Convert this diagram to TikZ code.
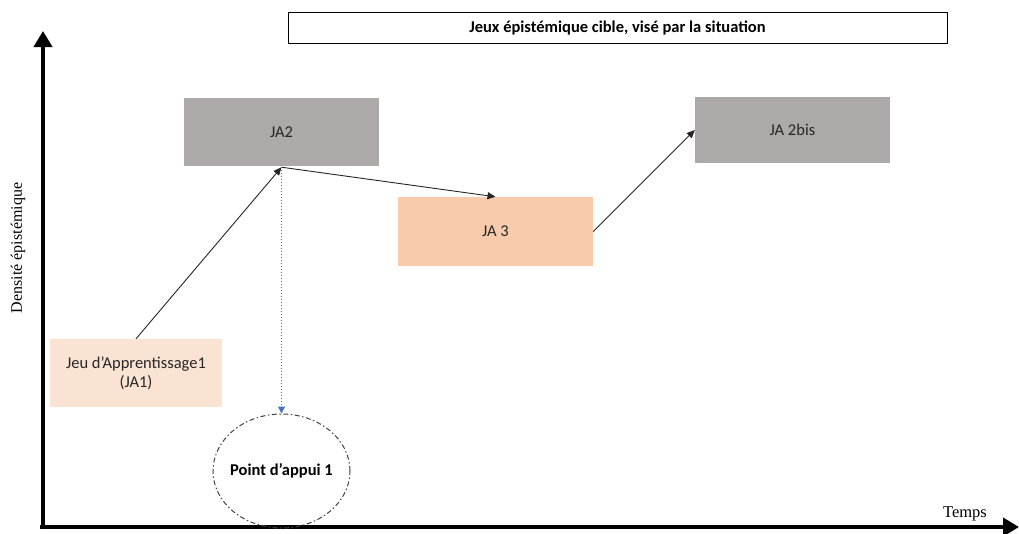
\documentclass[tikz,border=0pt]{standalone}
\usepackage{fontspec}
\setmainfont{Liberation Serif}
\newfontfamily\calfont{Carlito}
\usetikzlibrary{arrows.meta,shapes.geometric}
\definecolor{boxgray}{HTML}{ADA9A8}
\definecolor{peach}{HTML}{F8CBAD}
\definecolor{lightpeach}{HTML}{FBE3D3}
\definecolor{dotblue}{HTML}{4472C4}
\tikzset{
  jbox/.style={rectangle, inner sep=0pt, font=\calfont\fontsize{16.5}{19}\selectfont, text=black!85, align=center},
  conn/.style={-{Triangle[length=8pt,width=7pt]}, line width=0.9pt, black!85},
  axis/.style={line width=4.5pt, -{Triangle[length=16pt,width=18pt]}}
}
\begin{document}
\begin{tikzpicture}[x=1pt,y=-1pt]
\useasboundingbox (0,0) rectangle (1019,533);
% axes
\coordinate (O) at (43,527);
\coordinate (ytop) at (43,31);
\coordinate (xend) at (1019,527);
\draw[axis] (43,529) -- (ytop);
\draw[axis] (40,527) -- (xend);
\node[rotate=90, font=\fontsize{16}{18}\selectfont] (ylab) at (18,248) {Densité épistémique};
\node[font=\fontsize{16.5}{18}\selectfont] (xlab) at (965,514) {Temps};
% top box
\node[draw, line width=0.8pt, minimum width=659pt, minimum height=31pt, inner sep=0pt, font=\calfont\bfseries\fontsize{16.5}{19}\selectfont] (cible) at (617.5,27.5) {Jeux épistémique cible, visé par la situation};
% boxes
\node[jbox, fill=boxgray, minimum width=195pt, minimum height=68pt] (ja2) at (281.5,132) {JA2};
\node[jbox, fill=boxgray, minimum width=195pt, minimum height=66pt] (ja2bis) at (792.5,130) {JA 2bis};
\node[jbox, fill=peach, minimum width=195pt, minimum height=69pt] (ja3) at (495.5,231.5) {JA 3};
\node[jbox, fill=lightpeach, minimum width=172pt, minimum height=68pt] (ja1) at (136,373) {Jeu d’Apprentissage1\\(JA1)};
\node[ellipse, draw=black!75, line width=1pt, dash pattern=on 5pt off 2.5pt on 1.5pt off 2.5pt, minimum width=137pt, minimum height=114pt, inner sep=0pt, font=\calfont\bfseries\fontsize{16.5}{19}\selectfont] (pa) at (281.5,471) {\makebox[0pt]{Point d’appui 1}};
% connectors
\coordinate (j2b) at ([yshift=-1pt]ja2.south);
\draw[conn] (ja1.north) -- (j2b);
\draw[conn] (j2b) -- (ja3.north);
\draw[conn] (ja3.east) -- (ja2bis.west);
\draw[-{Triangle[length=7pt,width=7pt]}, dotblue, line width=1pt, dotted] (j2b) -- (pa.north);
\end{tikzpicture}
\end{document}
